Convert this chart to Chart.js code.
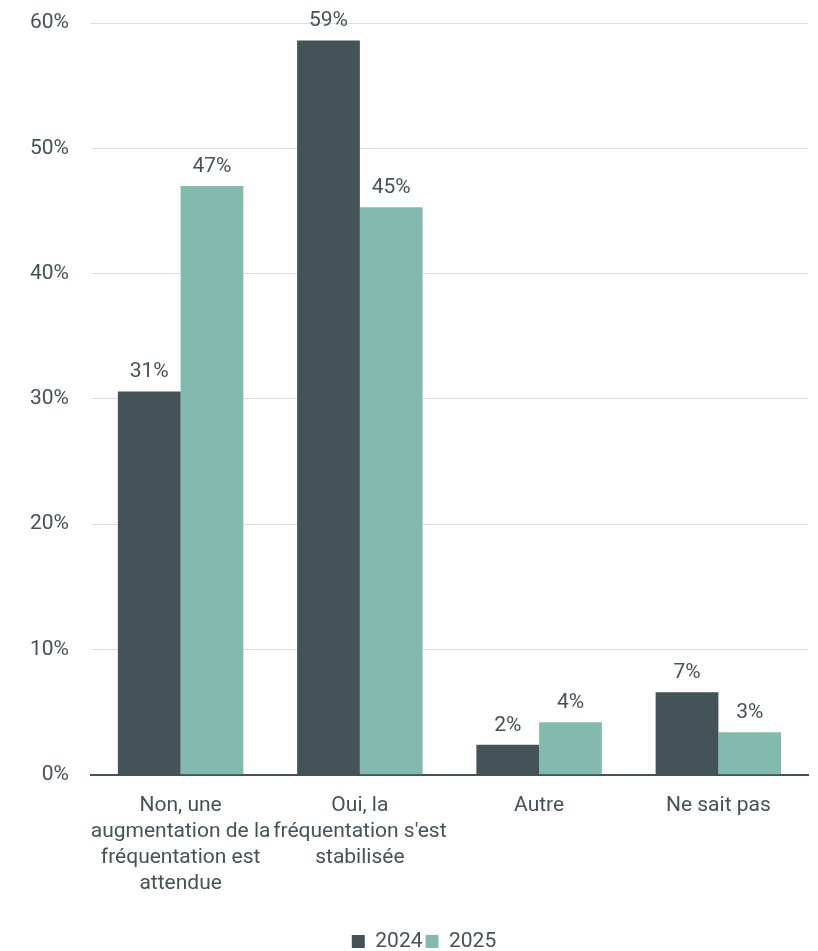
<!DOCTYPE html>
<html>
<head>
<meta charset="utf-8">
<script src="https://cdn.jsdelivr.net/npm/chart.js@4"></script>
<style>
  body { margin: 0; background: #fff; }
  #wrap { width: 818px; height: 951px; }
</style>
</head>
<body>
<div id="wrap"><canvas id="chart"></canvas></div>
<script>
const categories = [
    ['Non, une', 'augmentation de la', 'fréquentation est', 'attendue'],
    ['Oui, la', "fréquentation s'est", 'stabilisée'],
    'Autre',
    'Ne sait pas'
];
const values2024 = [30.6, 58.6, 2.4, 6.6];
const values2025 = [47.0, 45.3, 4.2, 3.4];
const yTicks = [0, 10, 20, 30, 40, 50, 60];

const textColor = '#44525a';
const fontFamily = 'Roboto, "Liberation Sans", sans-serif';

// draw the percent labels above each bar
const barLabels = {
    id: 'barLabels',
    afterLayout(chart) {
        // legend sits a bit right of the page centre in the original
        chart.legend.left += 16;
        chart.legend.right += 16;
    },
    afterDatasetsDraw(chart) {
        const ctx = chart.ctx;
        ctx.save();
        ctx.font = '21px ' + fontFamily;
        ctx.fillStyle = textColor;
        ctx.textAlign = 'center';
        ctx.textBaseline = 'bottom';
        chart.data.datasets.forEach((ds, i) => {
            chart.getDatasetMeta(i).data.forEach((bar, j) => {
                ctx.fillText(Math.round(ds.data[j]) + '%', bar.x, bar.y - 9);
            });
        });
        ctx.restore();
    }
};

new Chart(document.getElementById('chart').getContext('2d'), {
    type: 'bar',
    data: {
        labels: categories,
        datasets: [
            { label: '2024', data: values2024, backgroundColor: '#435358' },
            { label: '2025', data: values2025, backgroundColor: '#82bbad' }
        ]
    },
    options: {
        responsive: true,
        maintainAspectRatio: false,
        animation: false,
        layout: { padding: { top: 23, right: 10, left: 8, bottom: -11 } },
        datasets: { bar: { barPercentage: 1, categoryPercentage: 0.7 } },
        plugins: {
            legend: {
                position: 'bottom',
                labels: {
                    color: textColor,
                    font: { size: 21, family: fontFamily },
                    boxWidth: 13,
                    boxHeight: 13,
                    padding: 3
                }
            },
            tooltip: { enabled: false }
        },
        scales: {
            x: {
                grid: { display: false, drawTicks: false },
                border: { color: '#435358', width: 2 },
                afterFit: (scale) => { scale.height += 13; },
                ticks: {
                    color: textColor,
                    font: { size: 21, family: fontFamily, lineHeight: 1.24 },
                    padding: 18,
                    autoSkip: false,
                    maxRotation: 0
                }
            },
            y: {
                min: 0,
                max: 60,
                afterBuildTicks: (axis) => { axis.ticks = yTicks.map(v => ({ value: v })); },
                afterFit: (scale) => { scale.paddingTop = 0; scale.paddingBottom = 0; },
                grid: { color: '#d9dddf', drawTicks: false },
                border: { display: false },
                ticks: {
                    color: textColor,
                    font: { size: 21, family: fontFamily },
                    padding: 22,
                    callback: (v) => v + '%'
                }
            }
        }
    },
    plugins: [barLabels]
});
</script>
</body>
</html>
